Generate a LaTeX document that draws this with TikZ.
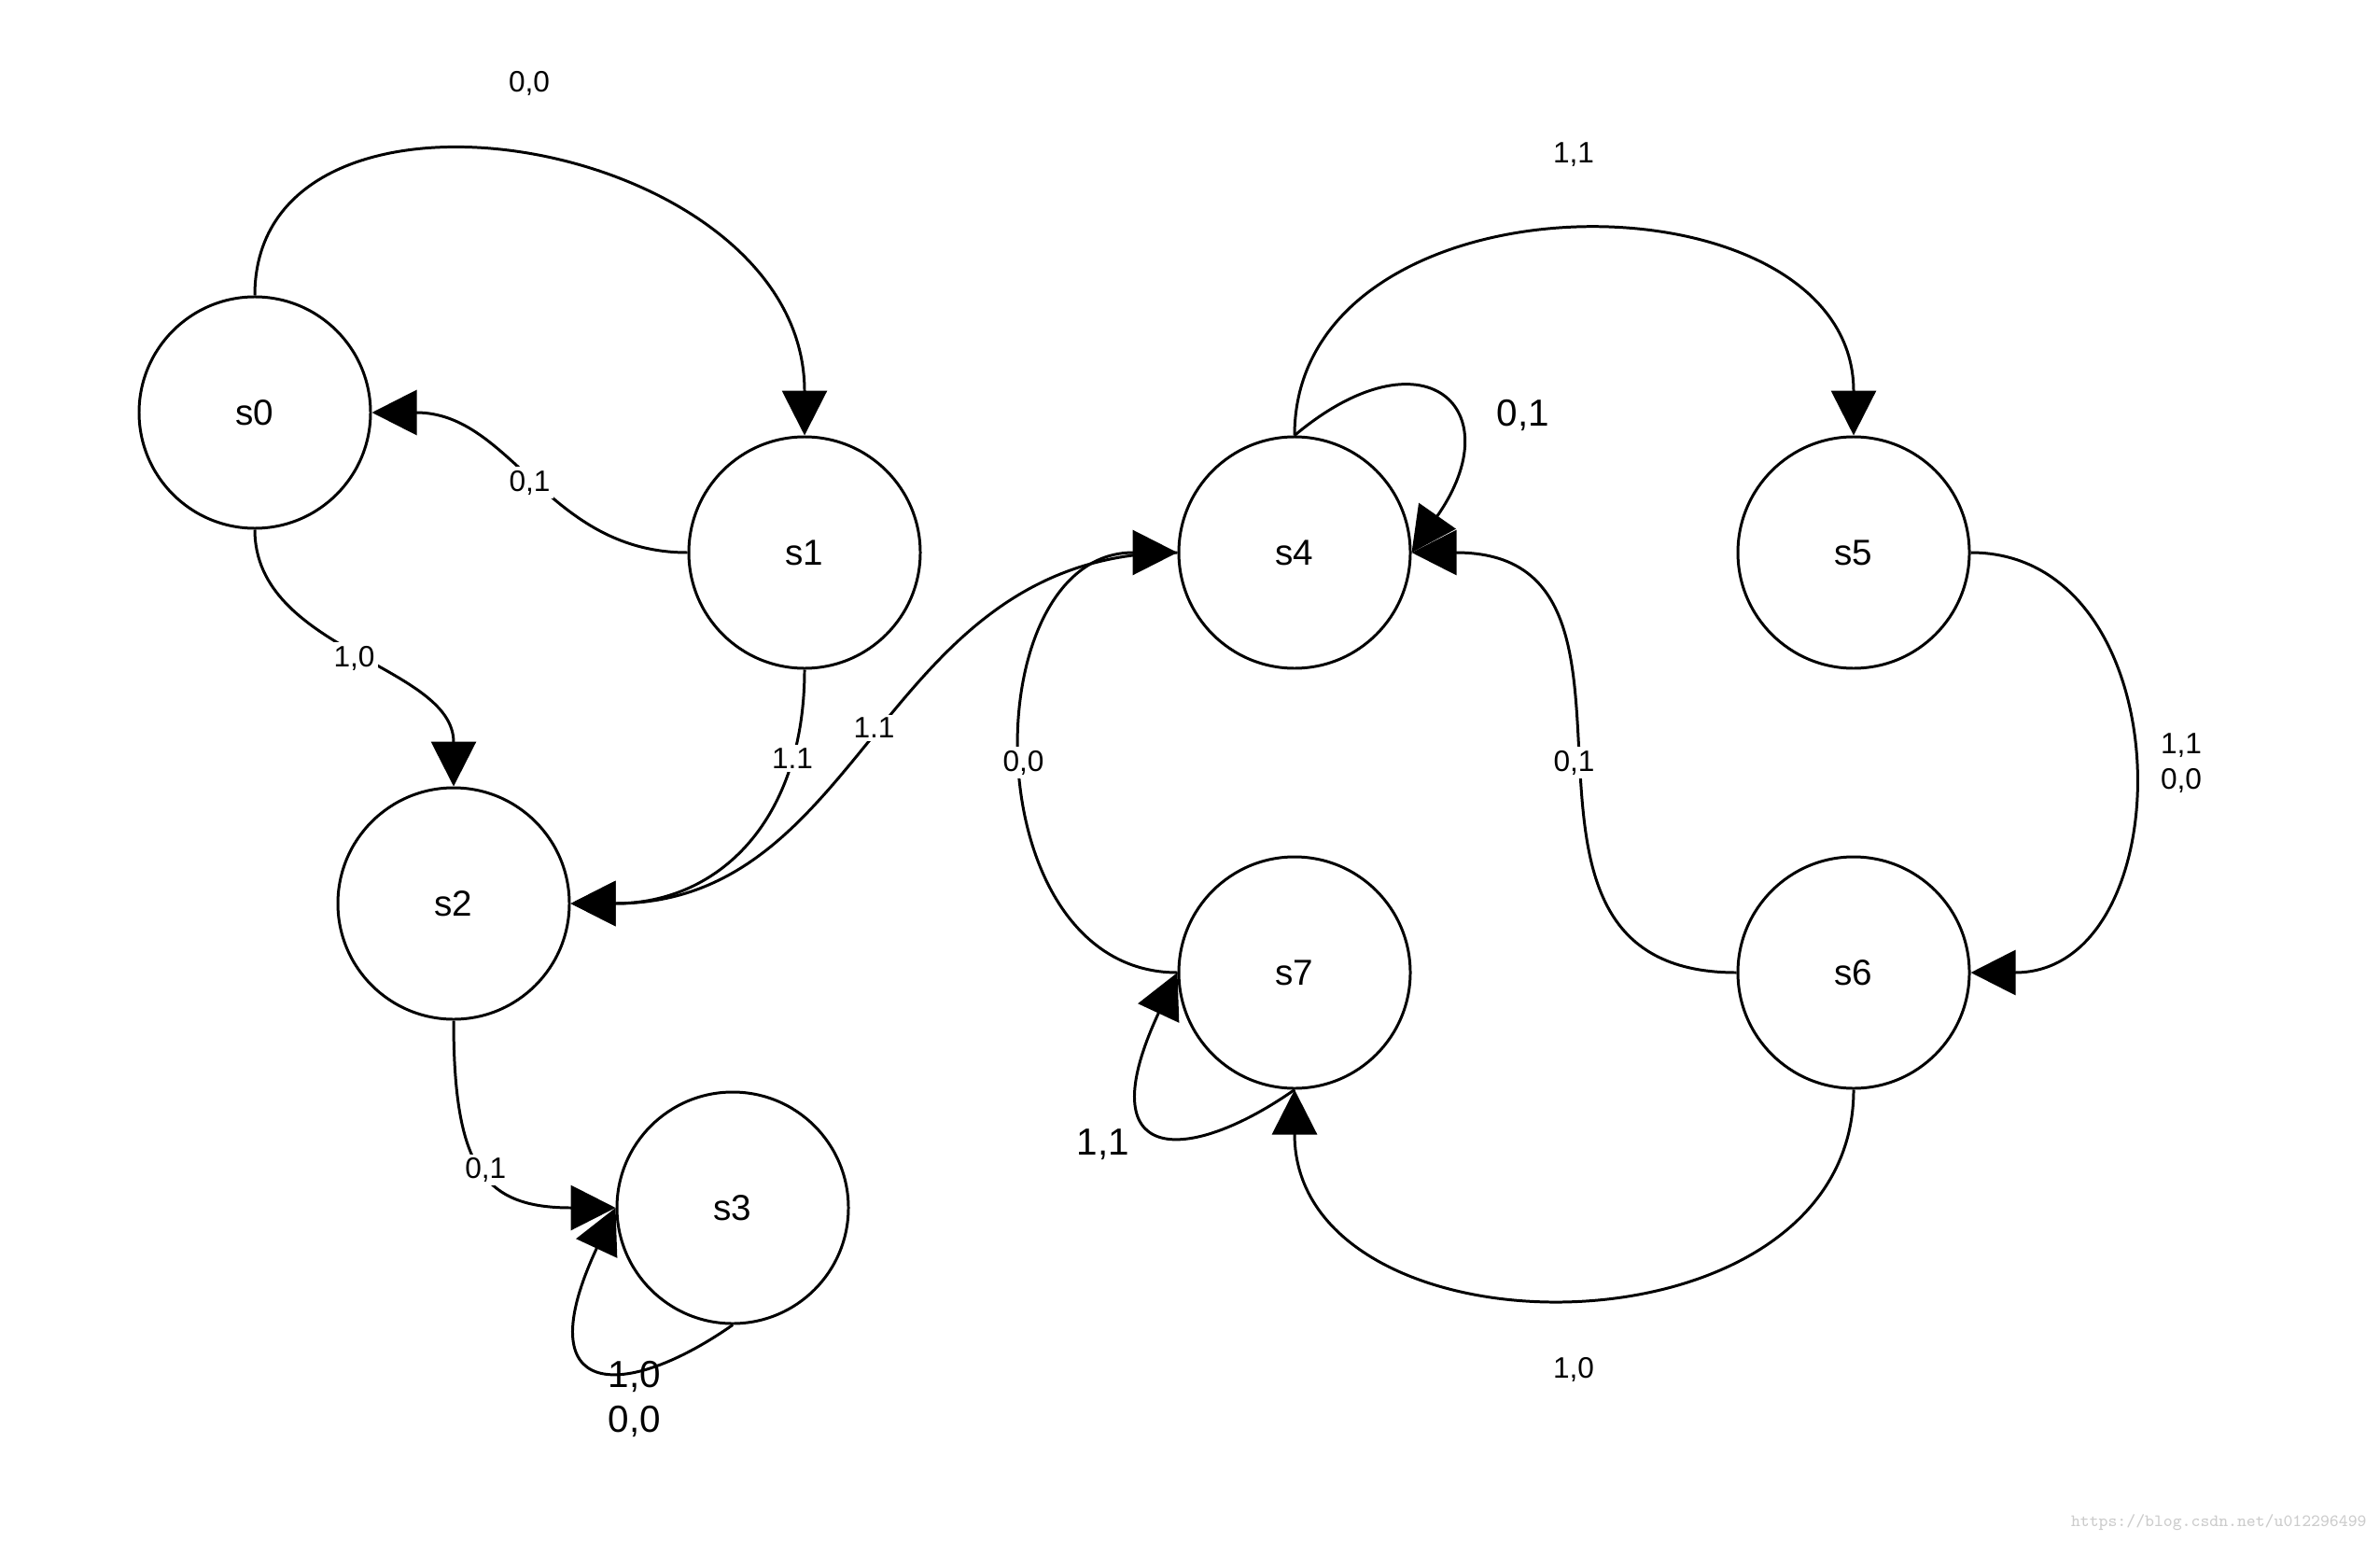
\documentclass[tikz,border=0pt]{standalone}
\usepackage{fontspec}
\setmainfont{Liberation Sans}
\usetikzlibrary{arrows.meta}

\begin{document}
\begin{tikzpicture}[>={Triangle[length=0.48cm,width=0.48cm]}, line width=0.85pt]
	\tikzset{state/.style={draw, circle, minimum size=2.48cm, inner sep=0pt, font=\fontsize{11}{13}\selectfont},
		lbl/.style={fill=white, inner sep=1pt, font=\fontsize{9}{10.8}\selectfont, align=center},
		big/.style={inner sep=0pt, font=\fontsize{11.5}{13.7}\selectfont, align=center}}
	\useasboundingbox (0,0) rectangle (25.5,16.5);
	% --- 1. Các trạng thái ---
	\node[state] (s0) at (2.73,12.08) {s0};
	\node[state] (s1) at (8.62,10.58) {s1};
	\node[state] (s2) at (4.86,6.82) {s2};
	\node[state] (s3) at (7.85,3.56) {s3};
	\node[state] (s4) at (13.87,10.58) {s4};
	\node[state] (s5) at (19.86,10.58) {s5};
	\node[state] (s6) at (19.86,6.08) {s6};
	\node[state] (s7) at (13.87,6.08) {s7};
	% --- 2. Cung bên trái ---
	\draw[->] (s0.north) .. controls +(0,2.7) and +(0,3.2) .. (s1.north);
	\node[lbl] (l01) at (5.67,15.61) {0,0};
	\draw[->] (s1.west) .. controls +(-1.5,0) and +(1.5,0) .. (s0.east) node[lbl, pos=0.5] (l10) {0,1};
	\draw[->] (s0.south) .. controls +(0,-1.3) and +(0,1.3) .. (s2.north) node[lbl, pos=0.5] (l02) {1,0};
	\draw[->] (s1.south) .. controls +(0,-1.6) and +(1.6,0) .. (s2.east) node[lbl, pos=0.22] (l12) {1.1};
	\draw[->] (s4.west) .. controls +(-3.2,0) and +(3.2,0) .. (s2.east) node[lbl, pos=0.5] (l42) {1.1};
	\draw[->] (s2.south) .. controls +(0,-1.6) and +(-1.4,0) .. (s3.west) node[lbl, pos=0.5] (l23) {0,1};
	\draw[->] (s3.south) .. controls +(215:1.4) and +(245:2.3) .. (s3.west); % vòng s3
	\node[big] (l33) at (6.80,1.51) {1,0\\0,0};
	% --- 3. Cung bên phải ---
	\draw[->] (s4.north) .. controls +(0,2.9) and +(0,2.9) .. (s5.north);
	\node[lbl] (l45) at (16.86,14.84) {1,1};
	\draw[->] (s4.north) .. controls +(40:1.8) and +(55:1.9) .. (s4.east); % vòng s4
	\node[big] (l44) at (16.32,12.05) {0,1};
	\draw[->] (s5.east) .. controls +(2.3,0) and +(2.3,0) .. (s6.east);
	\node[lbl] (l56) at (23.37,8.32) {1,1\\0,0};
	\draw[->] (s6.west) .. controls +(-3,0) and +(3,0) .. (s4.east) node[lbl, pos=0.5] (l64) {0,1};
	\draw[->] (s6.south) .. controls +(0,-2.95) and +(0,-2.95) .. (s7.south);
	\node[lbl] (l67) at (16.86,1.83) {1,0};
	\draw[->] (s7.west) .. controls +(-2.2,0) and +(-2.2,0) .. (s4.west) node[lbl, pos=0.5] (l74) {0,0};
	\draw[->] (s7.south) .. controls +(215:1.4) and +(245:2.3) .. (s7.west); % vòng s7
	\node[big] (l77) at (11.82,4.24) {1,1};
	% --- 4. Dấu nước ---
	\node[anchor=base east, inner sep=0pt, text=gray!40, font=\ttfamily\fontsize{5.3}{6}\selectfont] (wm) at (25.37,0.15) {https://blog.csdn.net/u012296499};
\end{tikzpicture}
\end{document}
